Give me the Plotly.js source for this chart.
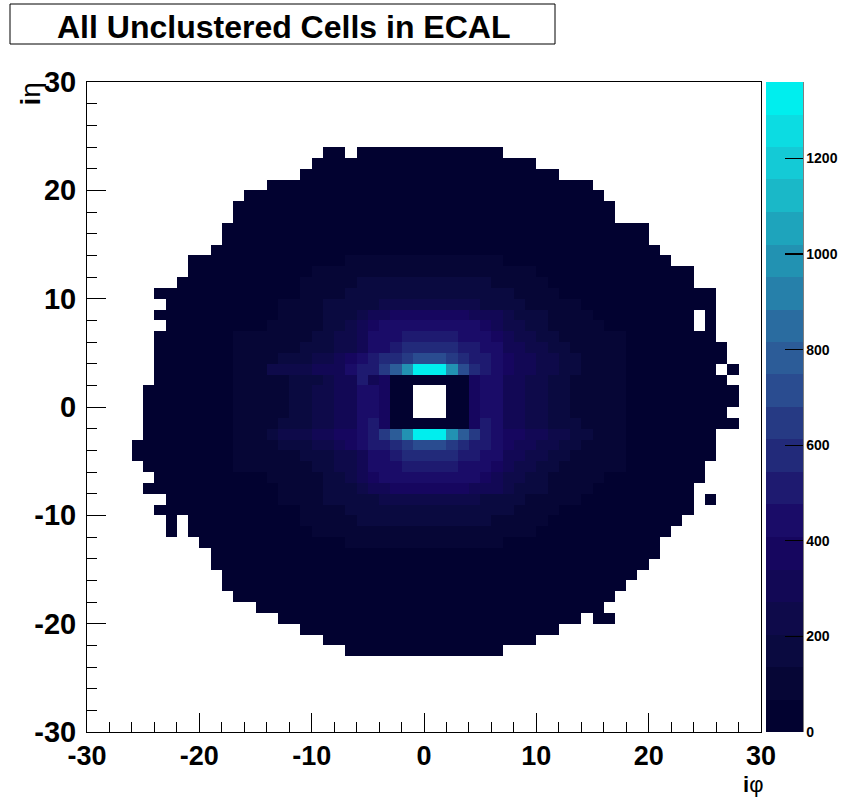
<!DOCTYPE html>
<html><head><meta charset="utf-8">
<script src="https://cdn.plot.ly/plotly-3.0.1.min.js"></script>
<style>html,body{margin:0;padding:0;background:#fff;}#chart{width:842px;height:797px;}</style>
</head><body><div id="chart"></div>
<script>
// Band index per cell (1..20 -> '1'..'9','a'..'k'), '.' = empty cell. Each row starts at rowStart.
const rowY = [23,22,21,20,19,18,17,16,15,14,13,12,11,10,9,8,7,6,5,4,3,2,1,0,-1,-2,-3,-4,-5,-6,-7,-8,-9,-10,-11,-12,-13,-14,-15,-16,-17,-18,-19,-20,-21,-22,-23];
const rowStart = [-9,-10,-11,-14,-16,-17,-17,-18,-18,-19,-21,-21,-22,-24,-23,-24,-23,-24,-24,-24,-24,-24,-25,-25,-25,-25,-25,-26,-26,-25,-24,-25,-23,-24,-23,-23,-20,-19,-19,-18,-18,-17,-15,-13,-11,-9,-7];
const rowBands = [
  "11.1111111"+"111111",
  "1111111111"+"1111111111",
  "1111111111"+"1111111111"+"111",
  "1111111111"+"1111111111"+"111111111",
  "1111111111"+"1111111111"+"1111111111"+"11",
  "1111111111"+"1111111111"+"1111111111"+"1111",
  "1111111111"+"1111111111"+"1111111111"+"1111",
  "1111111111"+"1111111111"+"1111111111"+"11111111",
  "1111111111"+"1111111111"+"1111111111"+"11111111",
  "1111111111"+"1111111111"+"1111111111"+"1111111111",
  "1111111"+"11111112222222"+"2222222111111111"+"111111",
  "1111111"+"11112222222222"+"2222222222111111"+"11111111",
  "11111111"+"11122222333333"+"3333332222211111"+"11111111",
  "1111111111"+"11122223333333"+"3333333322221111"+"1111111111",
  "111111111"+"12222333334444"+"4444433332222211"+"1111111111",
  "1111111111"+"12222333455666"+"6666555433322221"+"11111111.1",
  "111111111"+"22222334567777"+"7777765443322222"+"11111111.1",
  "1111111222"+"22223344577788"+"8887776544332222"+"2211111111",
  "1111111222"+"22233344577899"+"9998877554433222"+"22111111111",
  "1111111222"+"233344567899ab"+"bba9887655443322"+"22111111111",
  "1111111222"+"4444555788acfk"+"kkfb987655443322"+"2211111111.1",
  "1111111222"+"22333455856"+"1111111"+"677554433222"+"22111111111",
  "11111111222"+"22334455776"+"11...11"+"677554433222"+"221111111111",
  "11111111222"+"22334455776"+"11...11"+"677554433222"+"221111111111",
  "11111111222"+"22334455776"+"11...11"+"677554433222"+"22111111111",
  "11111111222"+"23334455786111"+"1111687554433322"+"221111111111",
  "11111111222"+"3444556678acfk"+"kkfca87665544332"+"2211111111",
  "111111111222"+"233344567889ab"+"bba9887655443322"+"2211111111",
  "111111111222"+"22233344577899"+"9998877554433222"+"2211111111",
  "11111111222"+"22223344577788"+"8887776544332222"+"221111111",
  "1111111111"+"22222334567777"+"7777765443322222"+"111111111",
  "11111111111"+"12222333455666"+"6666555433322221"+"11111111",
  "111111111"+"12222333334444"+"4444433332222211"+"11111111.1",
  "1111111111"+"11122223333333"+"3333333322221111"+"11111111",
  "1.1111111"+"11122222333333"+"3333332222211111"+"1111111",
  "1.1111111"+"11112222222222"+"2222222222111111"+"111111",
  "1111111111"+"111"+"2222222222"+"2222"+"1111111111"+"1111",
  "1111111111"+"1111111111"+"1111111111"+"1111111111",
  "1111111111"+"1111111111"+"1111111111"+"111111111",
  "1111111111"+"1111111111"+"1111111111"+"1111111",
  "1111111111"+"1111111111"+"1111111111"+"111111",
  "1111111111"+"1111111111"+"1111111111"+"1111",
  "1111111111"+"1111111111"+"1111111111"+"1",
  "1111111111"+"1111111111"+"1111111"+"."+"11",
  "1111111111"+"1111111111"+"111",
  "1111111111"+"111111111",
  "1111111111"+"1111"
];
const bandColors = ["#020230","#060636","#0a0a40","#0e0a4a","#120855","#16065f","#1a0c68","#1e1a70","#222a7a","#263a84",
                    "#2a4c90","#2c5c98","#2a6ca0","#2680aa","#2292b2","#1ea4bc","#1ab8c8","#14cad6","#0cdce2","#00eeee"];
const bandWidth = 68;           // 20 contour bands, 0..1360
const zMax = 1360;
const axisTicks = [-30,-20,-10,0,10,20,30];
const colorbarTicks = [0,200,400,600,800,1000,1200];
const titleText = "All Unclustered Cells in ECAL";

// bin edges -30..30, 1 unit bins
const xCenters = [], yCenters = [];
for (let v = -30; v < 30; v++) { xCenters.push(v + 0.5); yCenters.push(v + 0.5); }
const z = yCenters.map(() => xCenters.map(() => null));
rowY.forEach((yy, r) => {
  const s = rowBands[r];
  for (let k = 0; k < s.length; k++) {
    const ch = s[k];
    if (ch === '.') continue;
    const band = parseInt(ch, 36);
    z[yy + 30][rowStart[r] + k + 30] = band * bandWidth - bandWidth / 2;
  }
});
const cs = [];
bandColors.forEach((c, i) => { cs.push([i / bandColors.length, c]); cs.push([(i + 1) / bandColors.length, c]); });

const F = "Liberation Sans, Arial, Helvetica, sans-serif";
const W = 842, H = 797, L = 87, R = 81, T = 82, B = 65;
const pw = W - L - R, ph = H - T - B;
const px2x = p => (p - L) / pw, py2y = p => (H - B - p) / ph;

const trace = {
  type: 'heatmap', x: xCenters, y: yCenters, z: z,
  zmin: 0, zmax: zMax, colorscale: cs, hoverongaps: false,
  colorbar: {
    x: px2x(766), xanchor: 'left', xpad: 0, ypad: 0, y: 0.5, yanchor: 'middle', len: 1, lenmode: 'fraction',
    thickness: 37, thicknessmode: 'pixels', outlinewidth: 0,
    tickvals: colorbarTicks, ticktext: colorbarTicks.map(String), ticks: 'inside', ticklen: 18, tickcolor: '#000', tickwidth: 1.2,
    tickfont: {family: F, size: 14, weight: 'bold', color: '#000'}
  }
};
const axCommon = {
  range: [-30, 30], tickvals: axisTicks, ticktext: axisTicks.map(String), ticks: 'inside', ticklen: 19, tickwidth: 1, tickcolor: '#000',
  minor: {dtick: 2, tick0: 0, ticks: 'inside', ticklen: 10, tickcolor: '#000', tickwidth: 1},
  showline: true, linecolor: '#000', linewidth: 1, mirror: true, showgrid: false, zeroline: false,
  tickfont: {family: F, size: 29, weight: 'bold', color: '#000'}, fixedrange: true, automargin: false
};
const layout = {
  width: W, height: H, margin: {l: L, r: R, t: T, b: B, pad: 0, autoexpand: false},
  paper_bgcolor: '#fff', plot_bgcolor: '#fff', showlegend: false,
  xaxis: Object.assign({}, axCommon, {ticklabelstandoff: 0, tickfont: {family: F, size: 27, weight: 'bold', color: '#000'}}),
  yaxis: Object.assign({}, axCommon, {ticklabelstandoff: 4}),
  shapes: [
    {type: 'rect', xref: 'paper', yref: 'paper', x0: px2x(10), x1: px2x(555), y0: py2y(44), y1: py2y(4), line: {color: '#000', width: 1}, fillcolor: '#fff', layer: 'above'},
    {type: 'line', xref: 'paper', yref: 'paper', x0: px2x(803), x1: px2x(803), y0: 0, y1: 1, line: {color: '#000', width: 1}}
  ],
  annotations: [
    {text: '<b>' + titleText + '</b>', xref: 'paper', yref: 'paper', x: px2x(283), y: py2y(27), xanchor: 'center', yanchor: 'middle', showarrow: false,
     font: {family: F, size: 32, color: '#000'}},
    {text: '<b>i</b>φ', xref: 'paper', yref: 'paper', x: px2x(764), y: py2y(784), xanchor: 'right', yanchor: 'middle', showarrow: false, borderpad: 0,
     font: {family: F, size: 22, color: '#000'}},
    {text: '<b>i</b>η', xref: 'paper', yref: 'paper', x: px2x(30), y: py2y(80), xanchor: 'center', yanchor: 'top', textangle: -90, showarrow: false,
     font: {family: F, size: 28, color: '#000'}}
  ]
};
Plotly.newPlot('chart', [trace], layout, {staticPlot: true, displayModeBar: false});
</script></body></html>
